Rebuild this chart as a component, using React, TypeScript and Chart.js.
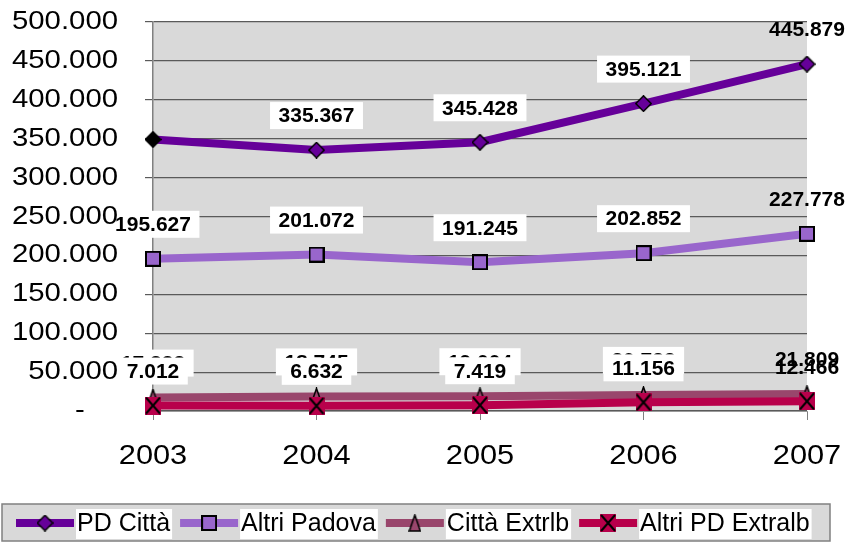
import { useEffect, useRef } from 'react';
import { Chart, registerables } from 'chart.js';
Chart.register(...registerables);

const years = ['2003', '2004', '2005', '2006', '2007'];
const pdCitta = [349000, 335367, 345428, 395121, 445879];
const altriPadova = [195627, 201072, 191245, 202852, 227778];
const cittaExtrlb = [17232, 18745, 19004, 20723, 21809];
const altriPdExtralb = [7012, 6632, 7419, 11156, 12466];
const seriesNames = ['PD Città', 'Altri Padova', 'Città Extrlb', 'Altri PD Extralb'];
const seriesColors = ['#660099', '#9966CC', '#99466C', '#B8004B'];
const pdCittaLabelShown = [false, true, true, true, true];
const yMin = 0;
const yMax = 500000;
const yStep = 50000;

const fmt = (v: number) => (v === 0 ? '-' : (v / 1000).toFixed(3));

function mk(w: number, h: number, draw: (g: CanvasRenderingContext2D) => void) {
  const c = document.createElement('canvas');
  c.width = w;
  c.height = h;
  const g = c.getContext('2d')!;
  draw(g);
  return c;
}

function makeMarkers() {
  const diamond = (fill: string) =>
    mk(17, 17, (g) => {
      g.beginPath();
      g.moveTo(8.5, 0.8);
      g.lineTo(16.2, 8.5);
      g.lineTo(8.5, 16.2);
      g.lineTo(0.8, 8.5);
      g.closePath();
      g.fillStyle = fill;
      g.fill();
      g.lineWidth = 1.5;
      g.strokeStyle = '#000';
      g.stroke();
    });
  const square = mk(16, 16, (g) => {
    g.fillStyle = '#9966CC';
    g.fillRect(1, 1, 14, 14);
    g.lineWidth = 2;
    g.strokeStyle = '#000';
    g.strokeRect(1, 1, 14, 14);
  });
  const triangle = mk(13, 18, (g) => {
    g.beginPath();
    g.moveTo(6.5, 1);
    g.lineTo(12, 17);
    g.lineTo(1, 17);
    g.closePath();
    g.fillStyle = '#99466C';
    g.fill();
    g.lineWidth = 1.5;
    g.strokeStyle = '#000';
    g.stroke();
  });
  const cross = mk(16, 18, (g) => {
    g.fillStyle = '#B8004B';
    g.fillRect(0, 0, 16, 18);
    g.strokeStyle = '#000';
    g.lineWidth = 2;
    g.beginPath();
    g.moveTo(1, 1);
    g.lineTo(15, 17);
    g.moveTo(15, 1);
    g.lineTo(1, 17);
    g.stroke();
  });
  return { diamondBlack: diamond('#000'), diamond: diamond('#660099'), square, triangle, cross };
}

function stretchText(
  ctx: CanvasRenderingContext2D,
  text: string,
  x: number,
  y: number,
  font: string,
  align: CanvasTextAlign,
  sx: number
) {
  ctx.save();
  ctx.font = font;
  ctx.textAlign = align;
  ctx.textBaseline = 'middle';
  ctx.fillStyle = '#000';
  ctx.translate(x, y);
  ctx.scale(sx, 1);
  ctx.fillText(text, 0, 0);
  ctx.restore();
}

export default function App() {
  const ref = useRef<HTMLCanvasElement>(null);

  useEffect(() => {
    if (!ref.current) return;
    const m = makeMarkers();
    const legendMarkers = [m.diamond, m.square, m.triangle, m.cross];
    const seriesData = [pdCitta, altriPadova, cittaExtrlb, altriPdExtralb];

    const bgPlugin = {
      id: 'bg',
      beforeDraw(chart: any) {
        const { ctx, chartArea: a } = chart;
        ctx.save();
        ctx.fillStyle = '#ffffff';
        ctx.fillRect(0, 0, chart.width, chart.height);
        ctx.fillStyle = '#D9D9D9';
        ctx.fillRect(a.left, a.top, a.right - a.left, a.bottom - a.top);
        ctx.restore();
      },
    };

    const labelPlugin = {
      id: 'vlabels',
      afterDatasetsDraw(chart: any) {
        const ctx = chart.ctx as CanvasRenderingContext2D;
        ctx.save();
        ctx.font = "bold 21px 'Liberation Sans'";
        ctx.textAlign = 'center';
        ctx.textBaseline = 'middle';
        seriesData.forEach((arr, si) => {
          const meta = chart.getDatasetMeta(si);
          arr.forEach((v, j) => {
            if (si === 0 && !pdCittaLabelShown[j]) return;
            const pt = meta.data[j];
            const x = pt.x;
            const y = pt.y - 34.5;
            const t = fmt(v);
            const w = ctx.measureText(t).width;
            if (j < arr.length - 1) {
              ctx.fillStyle = '#ffffff';
              ctx.fillRect(x - (w + 17) / 2, y - 13.5, w + 17, 27);
            }
            ctx.fillStyle = '#000';
            ctx.fillText(t, x, y + 1);
          });
        });
        ctx.restore();
      },
      afterDraw(chart: any) {
        const ctx = chart.ctx as CanvasRenderingContext2D;
        const ys = chart.scales.y;
        const xs = chart.scales.x;
        ys.ticks.forEach((t: any) => {
          const py = ys.getPixelForValue(t.value);
          const lab = fmt(t.value);
          if (lab === '-') stretchText(ctx, lab, 80, py, "25.5px 'Liberation Sans'", 'center', 1.15);
          else stretchText(ctx, lab, 118, py, "25.5px 'Liberation Sans'", 'right', 1.15);
        });
        years.forEach((yr, i) => {
          stretchText(ctx, yr, xs.getPixelForValue(i), 457, "27px 'Liberation Sans'", 'center', 1.14);
        });
        // legend
        ctx.save();
        ctx.fillStyle = '#D9D9D9';
        ctx.fillRect(2, 504, 828, 37);
        ctx.strokeStyle = '#808080';
        ctx.lineWidth = 1.5;
        ctx.strokeRect(2, 504, 828, 37);
        ctx.font = "25px 'Liberation Sans'";
        ctx.textBaseline = 'middle';
        ctx.textAlign = 'left';
        let x = 16;
        const cy = 523;
        seriesNames.forEach((name, i) => {
          ctx.strokeStyle = seriesColors[i];
          ctx.lineWidth = 8;
          ctx.beginPath();
          ctx.moveTo(x, cy);
          ctx.lineTo(x + 58, cy);
          ctx.stroke();
          const mkr = legendMarkers[i];
          ctx.drawImage(mkr, x + 29 - mkr.width / 2, cy - mkr.height / 2);
          const tx = x + 60;
          const w = ctx.measureText(name).width;
          ctx.fillStyle = '#ffffff';
          ctx.fillRect(tx, 509, w + 3, 30);
          ctx.fillStyle = '#000';
          ctx.fillText(name, tx + 1, cy + 1);
          x = tx + w + 3 + 8;
        });
        ctx.restore();
      },
    };

    const chart = new Chart(ref.current, {
      type: 'line',
      data: {
        labels: years,
        datasets: [
          {
            label: seriesNames[0],
            data: pdCitta,
            borderColor: seriesColors[0],
            borderWidth: 8,
            pointStyle: [m.diamondBlack, m.diamond, m.diamond, m.diamond, m.diamond] as any,
            pointRadius: 8,
            order: 3,
            clip: false as any,
          },
          {
            label: seriesNames[1],
            data: altriPadova,
            borderColor: seriesColors[1],
            borderWidth: 8,
            pointStyle: m.square as any,
            pointRadius: 8,
            order: 2,
            clip: false as any,
          },
          {
            label: seriesNames[2],
            data: cittaExtrlb,
            borderColor: seriesColors[2],
            borderWidth: 8,
            pointStyle: m.triangle as any,
            pointRadius: 8,
            order: 1,
            clip: false as any,
          },
          {
            label: seriesNames[3],
            data: altriPdExtralb,
            borderColor: seriesColors[3],
            borderWidth: 8,
            pointStyle: m.cross as any,
            pointRadius: 8,
            order: 0,
            clip: false as any,
          },
        ],
      },
      options: {
        responsive: false,
        animation: false,
        devicePixelRatio: 1,
        layout: { padding: { top: 22, right: 43, left: 0, bottom: 0 } },
        plugins: { legend: { display: false }, tooltip: { enabled: false } },
        elements: { line: { tension: 0 } },
        scales: {
          x: {
            type: 'category',
            offset: false,
            ticks: { display: false },
            grid: { drawOnChartArea: false, drawTicks: true, tickLength: 9, color: '#808080', lineWidth: 1 },
            border: { display: true, color: '#9a9a9a', width: 1 },
            afterFit: (s: any) => {
              s.height = 131;
            },
          },
          y: {
            min: yMin,
            max: yMax,
            ticks: { display: false, stepSize: yStep },
            grid: { color: '#5a5a5a', lineWidth: 1.2, tickLength: 8, drawTicks: true },
            border: { display: true, color: '#808080', width: 1.5 },
            afterFit: (s: any) => {
              s.width = 153;
            },
          },
        },
      },
      plugins: [bgPlugin, labelPlugin],
    } as any);
    return () => chart.destroy();
  }, []);

  return (
    <div style={{ position: 'absolute', left: 0, top: 0, width: 850, height: 542, background: '#fff' }}>
      <canvas ref={ref} width={850} height={542} style={{ display: 'block' }} />
    </div>
  );
}
